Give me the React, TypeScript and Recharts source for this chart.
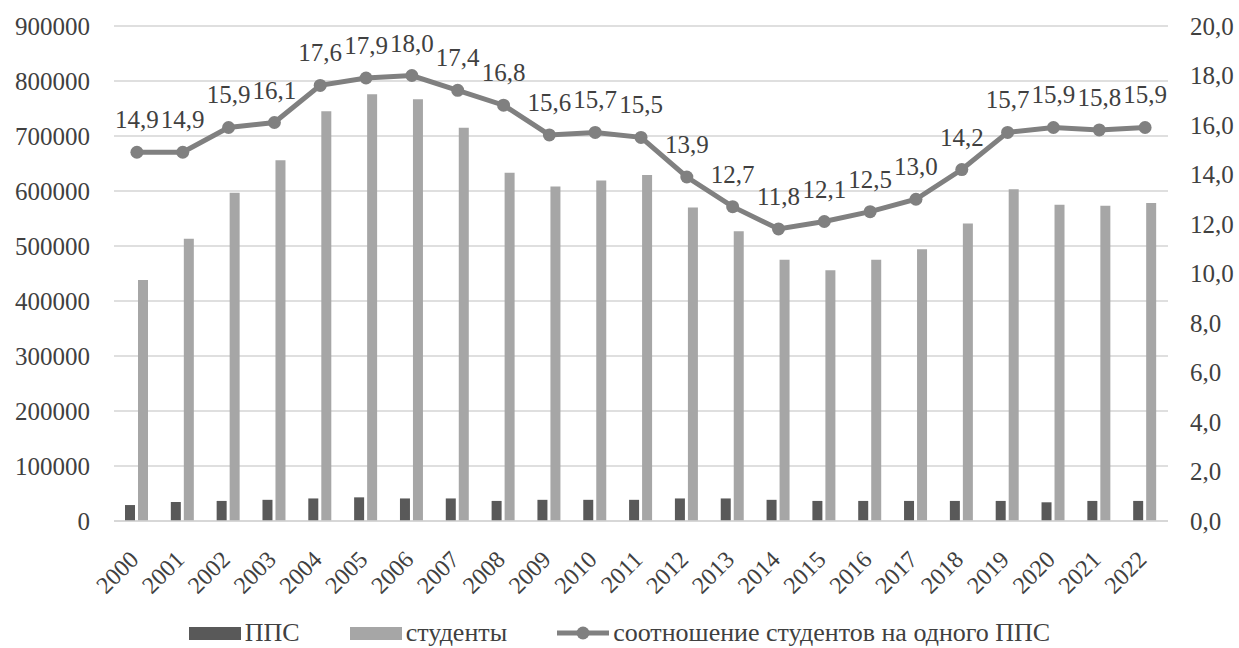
import {
  ComposedChart,
  Bar,
  Line,
  XAxis,
  YAxis,
  CartesianGrid,
  Legend,
  LabelList,
} from "recharts";

const years = [
  "2000", "2001", "2002", "2003", "2004", "2005", "2006", "2007", "2008", "2009", "2010", "2011",
  "2012", "2013", "2014", "2015", "2016", "2017", "2018", "2019", "2020", "2021", "2022",
];

// ППС (faculty)
const ppsValues = [
  29000, 34500, 36500, 38500, 41000, 43000, 41000, 41000, 36500, 38500, 38500, 38500,
  41000, 41000, 38500, 36500, 36500, 36500, 36500, 36500, 34000, 36500, 36500,
];

// студенты
const studentValues = [
  438000, 513000, 597000, 656000, 745000, 776000, 767000, 715000, 633000, 608000, 619000, 629000,
  570000, 527000, 475000, 456000, 475000, 494000, 541000, 603000, 575000, 573000, 578000,
];

// соотношение студентов на одного ППС
const ratioValues = [
  14.9, 14.9, 15.9, 16.1, 17.6, 17.9, 18.0, 17.4, 16.8, 15.6, 15.7, 15.5,
  13.9, 12.7, 11.8, 12.1, 12.5, 13.0, 14.2, 15.7, 15.9, 15.8, 15.9,
];

const leftTicks = [0, 100000, 200000, 300000, 400000, 500000, 600000, 700000, 800000, 900000];
const rightTicks = [0, 2, 4, 6, 8, 10, 12, 14, 16, 18, 20];

const data = years.map((year, i) => ({
  year,
  pps: ppsValues[i],
  students: studentValues[i],
  ratio: ratioValues[i],
}));

const FONT = "'Times New Roman', 'Liberation Serif', serif";
const TEXT = "#404040";
const PPS_COLOR = "#595959";
const STUDENT_COLOR = "#a6a6a6";
const LINE_COLOR = "#808080";

const comma = (v: number) => v.toFixed(1).replace(".", ",");

function YearTick({ x, y, payload }: any) {
  return (
    <text
      x={x + 3}
      y={y + 38}
      transform={`rotate(-45, ${x + 3}, ${y + 38})`}
      textAnchor="end"
      fontFamily={FONT}
      fontSize={24}
      fill={TEXT}
    >
      {payload.value}
    </text>
  );
}

function ChartLegend() {
  const item = { display: "flex", alignItems: "center", gap: 4 } as const;
  return (
    <div
      style={{
        display: "flex",
        justifyContent: "center",
        gap: 50,
        fontFamily: FONT,
        fontSize: 26,
        color: TEXT,
        paddingTop: 12,
      }}
    >
      <div style={item}>
        <span style={{ width: 52, height: 13, background: PPS_COLOR, display: "inline-block" }} />
        <span>ППС</span>
      </div>
      <div style={item}>
        <span style={{ width: 52, height: 13, background: STUDENT_COLOR, display: "inline-block" }} />
        <span>студенты</span>
      </div>
      <div style={item}>
        <svg width={52} height={16}>
          <line x1={0} y1={8} x2={52} y2={8} stroke={LINE_COLOR} strokeWidth={5} />
          <circle cx={26} cy={8} r={6.5} fill={LINE_COLOR} />
        </svg>
        <span>соотношение студентов на одного ППС</span>
      </div>
    </div>
  );
}

export default function App() {
  return (
    <div style={{ position: "absolute", left: 0, top: 0, width: 1239, height: 648, background: "#fff", fontFamily: FONT }}>
      <ComposedChart
        width={1239}
        height={648}
        data={data}
        margin={{ top: 26, right: 0, bottom: 0, left: 0 }}
        barSize={10}
        barGap={3}
      >
        <CartesianGrid vertical={false} stroke="#d4d4d4" strokeWidth={1.5} yAxisId="left" />
        <XAxis
          dataKey="year"
          height={85}
          tickSize={0}
          tickLine={false}
          axisLine={{ stroke: "#d4d4d4", strokeWidth: 1.5 }}
          interval={0}
          tick={<YearTick />}
        />
        <YAxis
          yAxisId="left"
          width={114}
          domain={[0, 900000]}
          ticks={leftTicks}
          tickSize={0}
          tickMargin={24}
          tickLine={false}
          axisLine={false}
          tick={{ fontSize: 25, fill: TEXT, fontFamily: FONT }}
        />
        <YAxis
          yAxisId="right"
          orientation="right"
          width={71}
          domain={[0, 20]}
          ticks={rightTicks}
          tickFormatter={comma}
          tickSize={0}
          tickMargin={22}
          tickLine={false}
          axisLine={false}
          tick={{ fontSize: 25, fill: TEXT, fontFamily: FONT }}
        />
        <Legend verticalAlign="bottom" height={42} content={<ChartLegend />} />
        <Bar yAxisId="left" dataKey="pps" name="ППС" fill={PPS_COLOR} isAnimationActive={false} />
        <Bar yAxisId="left" dataKey="students" name="студенты" fill={STUDENT_COLOR} isAnimationActive={false} />
        <Line
          yAxisId="right"
          dataKey="ratio"
          name="соотношение студентов на одного ППС"
          stroke={LINE_COLOR}
          strokeWidth={5}
          dot={{ r: 6.5, fill: LINE_COLOR, stroke: LINE_COLOR, strokeWidth: 0 }}
          activeDot={false}
          isAnimationActive={false}
        >
          <LabelList
            dataKey="ratio"
            position="top"
            offset={24}
            formatter={(v: any) => comma(Number(v))}
            fontFamily={FONT}
            fontSize={25}
            fill={TEXT}
          />
        </Line>
      </ComposedChart>
    </div>
  );
}
